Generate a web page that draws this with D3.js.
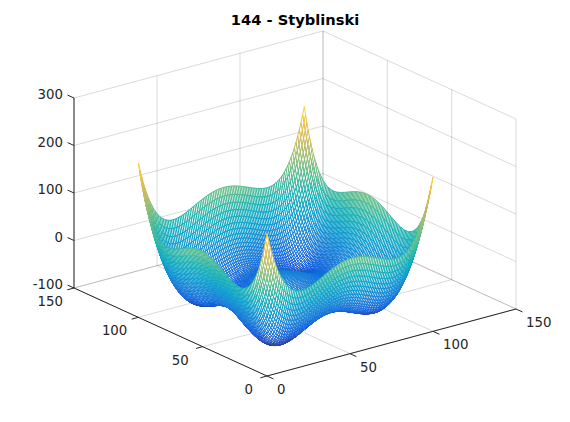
<!DOCTYPE html>
<html>
<head>
<meta charset="utf-8">
<script src="https://d3js.org/d3.v7.min.js"></script>
<style>
  body { margin: 0; background: #fff; }
  text { font-family: "DejaVu Sans", sans-serif; fill: #262626; font-size: 13.33px; }
</style>
</head>
<body>
<div id="chart"></div>
<script>
// Chart values
var chartTitle = "144 - Styblinski";
var xTicks = [0, 50, 100, 150];
var yTicks = [0, 50, 100, 150];
var zTicks = [-100, 0, 100, 200, 300];

// Height contributed by one axis at grid positions 0..100, estimated against the
// silhouette and checked with the Styblinski curve the title names.
// The same list is used for x and y, a point's height is the two added together.
var axisProfile = [
  100.0, 83.9, 69.1, 55.5, 43.1, 31.8, 21.5, 12.3, 4.0, -3.4,
  -10.0, -15.8, -20.8, -25.1, -28.7, -31.7, -34.2, -36.1, -37.5, -38.5,
  -39.0, -39.2, -39.0, -38.5, -37.7, -36.7, -35.5, -34.1, -32.5, -30.8,
  -29.0, -27.1, -25.2, -23.2, -21.2, -19.2, -17.3, -15.3, -13.5, -11.7,
  -10.0, -8.4, -6.9, -5.6, -4.3, -3.2, -2.3, -1.5, -0.8, -0.3,
  0.0, 0.2, 0.2, 0.0, -0.3, -0.7, -1.3, -2.1, -2.9, -3.9,
  -5.0, -6.2, -7.5, -8.8, -10.3, -11.7, -13.2, -14.7, -16.2, -17.6,
  -19.0, -20.3, -21.5, -22.6, -23.5, -24.2, -24.7, -25.0, -25.0, -24.7,
  -24.0, -23.0, -21.5, -19.6, -17.2, -14.2, -10.7, -6.6, -1.8, 3.7,
  10.0, 17.1, 25.0, 33.8, 43.5, 54.3, 66.1, 79.0, 93.1, 108.4,
  125.0
];

// parula colormap
var parula = ["#352a87", "#0f5cdd", "#127dd8", "#079ccf", "#15b1b4", "#59bd8c", "#a5be6b", "#e1b952", "#fcce2e", "#f9fb0e"];

var svgWidth = 570;
var svgHeight = 422;

var svg = d3.select("#chart")
  .append("svg")
  .attr("width", svgWidth)
  .attr("height", svgHeight);

// Oblique projection: the front corner is the origin, each axis has a scale per pixel direction
var origin = { x: 267, y: 376 };
var xToPx = d3.scaleLinear().domain([0, 150]).range([0, 249]);
var xToPy = d3.scaleLinear().domain([0, 150]).range([0, -67]);
var yToPx = d3.scaleLinear().domain([0, 150]).range([0, -193]);
var yToPy = d3.scaleLinear().domain([0, 150]).range([0, -88]);
var zToPy = d3.scaleLinear().domain([-100, 300]).range([0, -190]);

function project(x, y, z) {
  return [
    origin.x + xToPx(x) + yToPx(y),
    origin.y + xToPy(x) + yToPy(y) + zToPy(z)
  ];
}

// Polyline through 3d points
var line3d = d3.line();
function pathOf(points) {
  return line3d(points.map(p => project(p[0], p[1], p[2])));
}

// Grid lines on the floor and on the two back walls
var gridLines = [];
xTicks.forEach(function(t) {
  gridLines.push([[t, 0, -100], [t, 150, -100], [t, 150, 300]]);
});
yTicks.forEach(function(t) {
  gridLines.push([[0, t, -100], [150, t, -100], [150, t, 300]]);
});
zTicks.forEach(function(t) {
  gridLines.push([[0, 150, t], [150, 150, t], [150, 0, t]]);
});

svg.append("g")
  .selectAll("path")
  .data(gridLines)
  .enter()
  .append("path")
  .attr("d", pathOf)
  .attr("fill", "none")
  .attr("stroke", "#262626")
  .attr("stroke-opacity", 0.17)
  .attr("stroke-width", 1);

// Build mesh cells, back corner first so nearer cells hide the ones behind
var allZ = [];
axisProfile.forEach(a => axisProfile.forEach(b => allZ.push(a + b)));
var colorScale = d3.scaleLinear()
  .domain(parula.map((c, i) => d3.min(allZ) + i * (d3.max(allZ) - d3.min(allZ)) / (parula.length - 1)))
  .range(parula);

var cells = [];
for (var i = axisProfile.length - 2; i >= 0; i--) {
  for (var j = axisProfile.length - 2; j >= 0; j--) {
    cells.push([i, j]);
  }
}

function heightAt(i, j) {
  return axisProfile[i] + axisProfile[j];
}

svg.append("g")
  .selectAll("path")
  .data(cells)
  .enter()
  .append("path")
  .attr("d", function(d) {
    var i = d[0], j = d[1];
    return pathOf([
      [i, j, heightAt(i, j)],
      [i + 1, j, heightAt(i + 1, j)],
      [i + 1, j + 1, heightAt(i + 1, j + 1)],
      [i, j + 1, heightAt(i, j + 1)]
    ]) + "Z";
  })
  .attr("fill", "#fff")
  .attr("stroke", d => colorScale(heightAt(d[0], d[1])))
  .attr("stroke-width", 1);

// Axes
var axisLines = [
  [[0, 150, 300], [0, 150, -100], [0, 0, -100], [150, 0, -100]]
];
svg.append("g")
  .selectAll("path")
  .data(axisLines)
  .enter()
  .append("path")
  .attr("d", pathOf)
  .attr("fill", "none")
  .attr("stroke", "#262626")
  .attr("stroke-width", 1);

// Tick marks, a few data units outward along the neighbouring axis
var tickGroup = svg.append("g")
  .attr("stroke", "#262626")
  .attr("stroke-width", 1);

function tick(from, to) {
  tickGroup.append("path").attr("d", pathOf([from, to]));
}

xTicks.forEach(t => tick([t, 0, -100], [t, -5, -100]));
yTicks.forEach(t => tick([0, t, -100], [-4, t, -100]));
zTicks.forEach(t => tick([0, 150, t], [0, 155, t]));

// Tick labels
xTicks.forEach(function(t) {
  var p = project(t, 0, -100);
  svg.append("text").attr("x", p[0] + 10).attr("y", p[1] + 18).attr("text-anchor", "start").text(t);
});
yTicks.forEach(function(t) {
  var p = project(0, t, -100);
  svg.append("text").attr("x", p[0] - (t < 100 ? 14 : 11)).attr("y", p[1] + 18).attr("text-anchor", "end").text(t);
});
zTicks.forEach(function(t) {
  var p = project(0, 150, t);
  svg.append("text").attr("x", p[0] - 11).attr("y", p[1] + 1).attr("text-anchor", "end").text(t);
});

// Title
svg.append("text")
  .attr("x", 295)
  .attr("y", 25)
  .attr("text-anchor", "middle")
  .attr("font-weight", "bold")
  .style("font-size", "14.67px")
  .style("fill", "#000")
  .text(chartTitle);
</script>
</body>
</html>
